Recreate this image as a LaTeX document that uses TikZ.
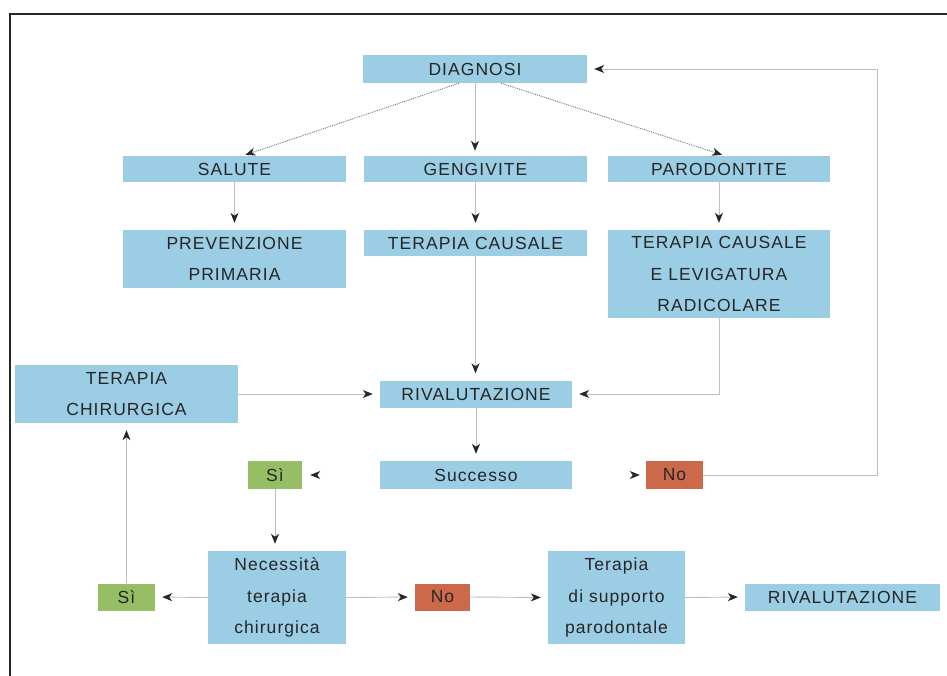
\documentclass[tikz,border=0pt]{standalone}
\usepackage{fontspec}
\setmainfont{Liberation Sans}[LetterSpace=6]
\usetikzlibrary{arrows.meta,calc}
\definecolor{boxblue}{RGB}{155,205,228}
\definecolor{boxgreen}{RGB}{150,190,100}
\definecolor{boxred}{RGB}{205,105,75}
\definecolor{linegray}{RGB}{190,190,190}
\begin{document}
\begin{tikzpicture}[x=1pt,y=-1pt,
  bx/.style={fill=boxblue, inner sep=0pt, align=center, text=black!85,
    font=\fontsize{17.5}{31.5}\selectfont},
  gbx/.style={bx, fill=boxgreen},
  rbx/.style={bx, fill=boxred},
  conn/.style={draw=linegray, line width=0.9pt,
    -{Stealth[length=10pt,width=8pt,inset=3pt,color=black!85]}, shorten >=7pt},
  hidden/.style={conn, draw=white},
  dotconn/.style={conn, draw=black!55, densely dotted}
]
\useasboundingbox (0,0) rectangle (947,675);
\fill[white] (0,0) rectangle (947,675);
\draw[line width=1.6pt, black!85] (947,14) -- (10,14) -- (10,676);

\node[bx, minimum width=224pt, minimum height=28pt] (diag) at (475,69) {DIAGNOSI};
\node[bx, minimum width=223pt, minimum height=26pt] (salute) at (234.5,169) {SALUTE};
\node[bx, minimum width=223pt, minimum height=26pt] (geng) at (475.5,169) {GENGIVITE};
\node[bx, minimum width=222pt, minimum height=26pt] (paro) at (719,169) {PARODONTITE};
\node[bx, minimum width=223pt, minimum height=58pt] (prev) at (234.5,259) {PREVENZIONE\\PRIMARIA};
\node[bx, minimum width=223pt, minimum height=26pt] (tc) at (475.5,243) {TERAPIA CAUSALE};
\node[bx, minimum width=222pt, minimum height=88pt] (tcl) at (719,274) {TERAPIA CAUSALE\\E LEVIGATURA\\RADICOLARE};
\node[bx, minimum width=223pt, minimum height=58pt] (chir) at (126.5,394) {TERAPIA\\CHIRURGICA};
\node[bx, minimum width=192pt, minimum height=27pt] (riv) at (476,394) {RIVALUTAZIONE};
\node[bx, minimum width=192pt, minimum height=28pt] (succ) at (476,475) {Successo};
\node[gbx, minimum width=54pt, minimum height=28pt] (si1) at (275,475) {Sì};
\node[rbx, minimum width=57pt, minimum height=28pt] (no1) at (674.5,475) {No};
\node[bx, minimum width=138pt, minimum height=93pt] (nec) at (277,597.5) {Necessità\\terapia\\chirurgica};
\node[gbx, minimum width=57pt, minimum height=27pt] (si2) at (126.5,597) {Sì};
\node[rbx, minimum width=55pt, minimum height=27pt] (no2) at (442.5,597) {No};
\node[bx, minimum width=137pt, minimum height=93pt] (sup) at (616.5,597.5) {Terapia\\di supporto\\parodontale};
\node[bx, minimum width=195pt, minimum height=27pt] (riv2) at (842.5,597) {RIVALUTAZIONE};

\coordinate (loopc) at (877,69);

\draw[dotconn, shorten >=3pt] ($(diag.south)+(-16,0)$) -- ($(salute.north)+(8,0)$);
\draw[dotconn, shorten >=3pt] ($(diag.south)+(26,0)$) -- ($(paro.north)+(6,0)$);
\draw[conn, shorten >=5pt] (diag.south) -- (diag.south |- geng.north);
\draw[conn] (salute) -- (prev);
\draw[conn] (geng.south) -- (geng.south |- tc.north);
\draw[conn] (paro) -- (tcl);
\draw[conn] (tc.south) -- (tc.south |- riv.north);
\draw[conn] (tcl.south) |- (riv.east);
\draw[conn] (chir.east) -- (riv.west);
\draw[conn] (riv) -- (succ);
\draw[hidden, shorten >=8pt] (succ.west) -- (si1.east);
\draw[hidden, shorten >=6pt] (succ.west -| succ.east) -- (no1.west);
\draw[conn] (no1.east) -| (loopc) -- (diag.east);
\draw[conn] (si1.south) -- (si1.south |- nec.north);
\draw[conn] (nec.west) -- (si2.east);
\draw[conn] (si2.north) -- (chir.south);
\draw[conn] (nec.east) -- (no2.west);
\draw[conn] (no2.east) -- (sup.west);
\draw[conn] (sup.east) -- (riv2.west);
\end{tikzpicture}
\end{document}
